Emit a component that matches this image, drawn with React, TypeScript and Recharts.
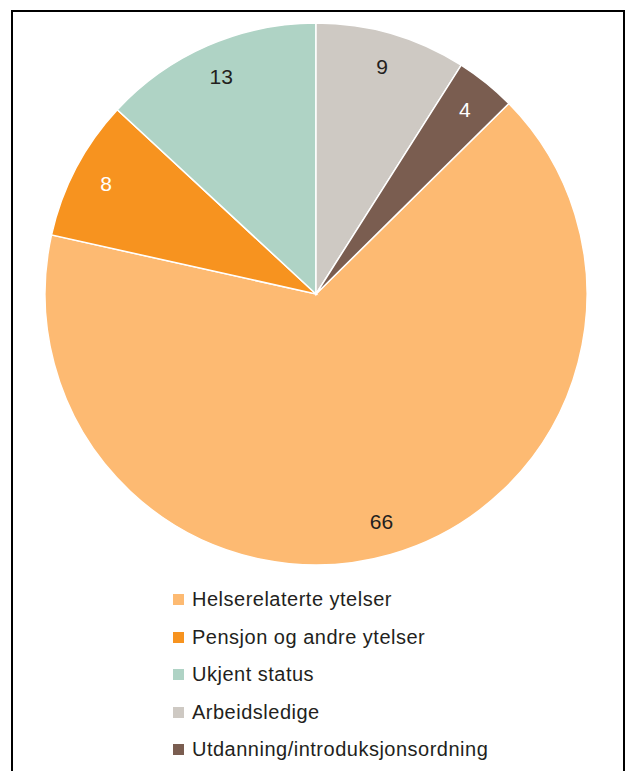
import React from 'react';
import { PieChart, Pie, Cell, Legend } from 'recharts';

const categories = [
  'Helserelaterte ytelser',
  'Pensjon og andre ytelser',
  'Ukjent status',
  'Arbeidsledige',
  'Utdanning/introduksjonsordning',
];
// percent; labels show them rounded
const shares = [65.9, 8.4, 13.1, 9.0, 3.6];

const sliceColors = ['#FDBA72', '#F7931F', '#AFD3C5', '#CEC9C3', '#7A5D50'];
const labelColors = ['#231F20', '#FFFFFF', '#231F20', '#231F20', '#FFFFFF'];

const data = categories.map((name, i) => ({ name, value: shares[i] }));

// first slice starts where Arbeidsledige + Utdanning end (clockwise from 12 o'clock)
const total = shares.reduce((a, b) => a + b, 0);
const startAngle = 90 - (360 * (shares[3] + shares[4])) / total;

const FONT = 'Arial, "Liberation Sans", Helvetica, sans-serif';
const RADIAN = Math.PI / 180;

const renderLabel = (props: any) => {
  const { cx, cy, midAngle, outerRadius, value, index } = props;
  const r = outerRadius * 0.875;
  const x = cx + r * Math.cos(-midAngle * RADIAN);
  const y = cy + r * Math.sin(-midAngle * RADIAN);
  return (
    <text
      x={x}
      y={y}
      fill={labelColors[index]}
      textAnchor="middle"
      dominantBaseline="central"
      fontFamily={FONT}
      fontSize={21}
    >
      {Math.round(value)}
    </text>
  );
};

const renderLegend = () => (
  <div style={{ fontFamily: FONT, fontSize: 20, letterSpacing: 0.5, color: '#231F20' }}>
    {categories.map((name, i) => (
      <div key={name} style={{ display: 'flex', alignItems: 'center', height: 37.5 }}>
        <span
          style={{
            display: 'inline-block',
            width: 11,
            height: 11,
            background: sliceColors[i],
            marginRight: 8,
          }}
        />
        <span>{name}</span>
      </div>
    ))}
  </div>
);

export default function App() {
  return (
    <div
      style={{
        position: 'absolute',
        left: 0,
        top: 0,
        width: 626,
        height: 771,
        overflow: 'hidden',
        background: '#fff',
      }}
    >
      <div
        style={{
          position: 'absolute',
          left: 11,
          top: 10,
          width: 610,
          height: 800,
          borderTop: '2px solid #000',
          borderLeft: '2px solid #000',
          borderRight: '2px solid #000',
        }}
      />
      <PieChart
        width={626}
        height={771}
        margin={{ top: 0, right: 0, bottom: 0, left: 0 }}
        style={{ position: 'absolute', left: 0, top: 0 }}
      >
        <Pie
          data={data}
          dataKey="value"
          nameKey="name"
          cx={316}
          cy={294}
          outerRadius={271}
          startAngle={startAngle}
          endAngle={startAngle - 360}
          stroke="#FFFFFF"
          strokeWidth={1.5}
          label={renderLabel}
          labelLine={false}
          isAnimationActive={false}
        >
          {data.map((d, i) => (
            <Cell key={d.name} fill={sliceColors[i]} />
          ))}
        </Pie>
        <Legend
          layout="vertical"
          content={renderLegend}
          wrapperStyle={{ position: 'absolute', left: 173, top: 581, width: 420 }}
        />
      </PieChart>
    </div>
  );
}
